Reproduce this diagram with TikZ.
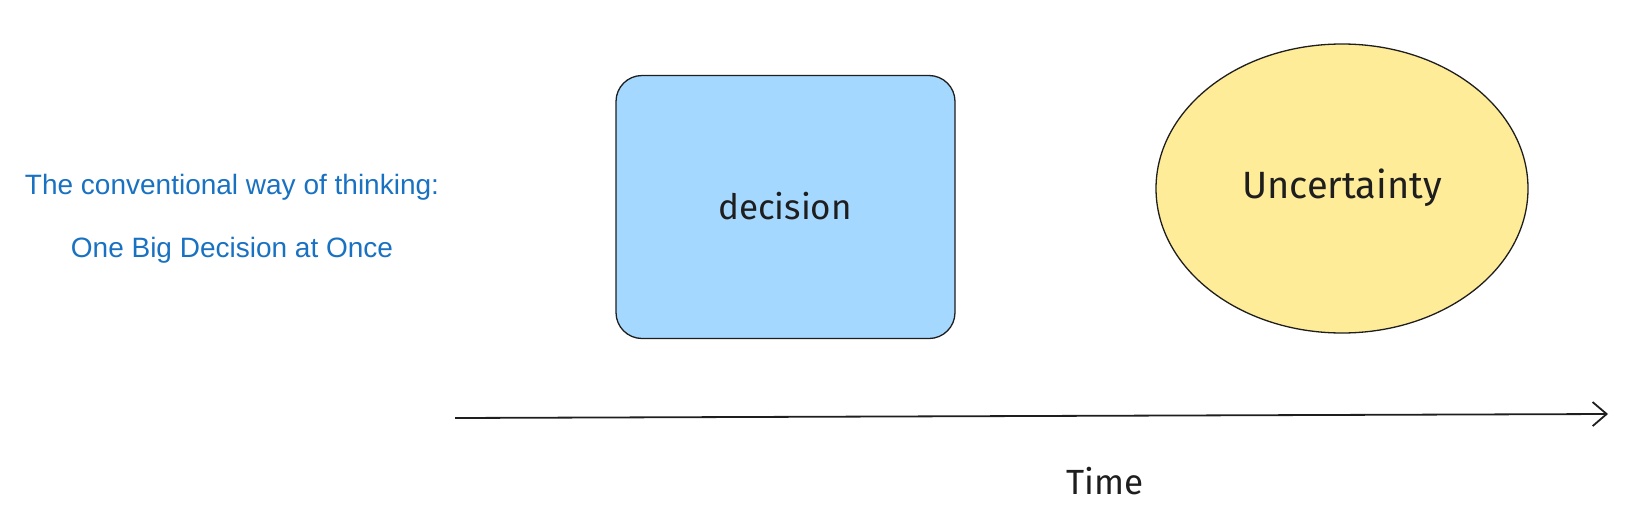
\documentclass[tikz,border=0pt]{standalone}
\usepackage{fontspec}
\setmainfont{Liberation Sans}
\newfontfamily\handfont{Fira Sans}
\usetikzlibrary{arrows.meta,shapes.geometric}
\definecolor{txtblue}{HTML}{1971C2}
\definecolor{ink}{HTML}{1E1E1E}
\definecolor{boxblue}{HTML}{A5D8FF}
\definecolor{ellyellow}{HTML}{FFEC99}
\tikzset{
  note/.style={text=txtblue, font=\fontsize{28}{32}\selectfont, inner sep=0pt},
  hand/.style={text=ink, font=\handfont\fontsize{35}{40}\selectfont, inner sep=0pt},
  decbox/.style={draw=ink, fill=boxblue, line width=1.3pt, rounded corners=26pt, minimum width=339pt, minimum height=263pt, inner sep=0pt},
  uncell/.style={draw=ink, fill=ellyellow, line width=1.3pt, ellipse, minimum width=372pt, minimum height=289pt, inner sep=0pt},
  timearrow/.style={draw=ink, line width=1.8pt, -{Straight Barb[length=14pt,width=24pt,line width=1.8pt]}}
}
\begin{document}
\begin{tikzpicture}[x=1pt,y=-1pt]
\useasboundingbox (0,0) rectangle (1637,514);
\node[note] (t1) at (232,187) {The conventional way of thinking:};
\node[note] (t2) at (232,250) {One Big Decision at Once};
\node[decbox] (dec) at (785.5,207) {};
\node[hand] (declbl) at (785,206) {decision};
\node[uncell] (unc) at (1342,188.5) {};
\node[hand,font=\handfont\fontsize{38}{42}\selectfont] (unclbl) at (1342,188) {Uncertainty};
\coordinate (ts) at (455,418);
\coordinate (te) at (1608,414);
\draw[timearrow] (ts) -- (te);
\node[hand] (time) at (1105,481) {Time};
\end{tikzpicture}
\end{document}
